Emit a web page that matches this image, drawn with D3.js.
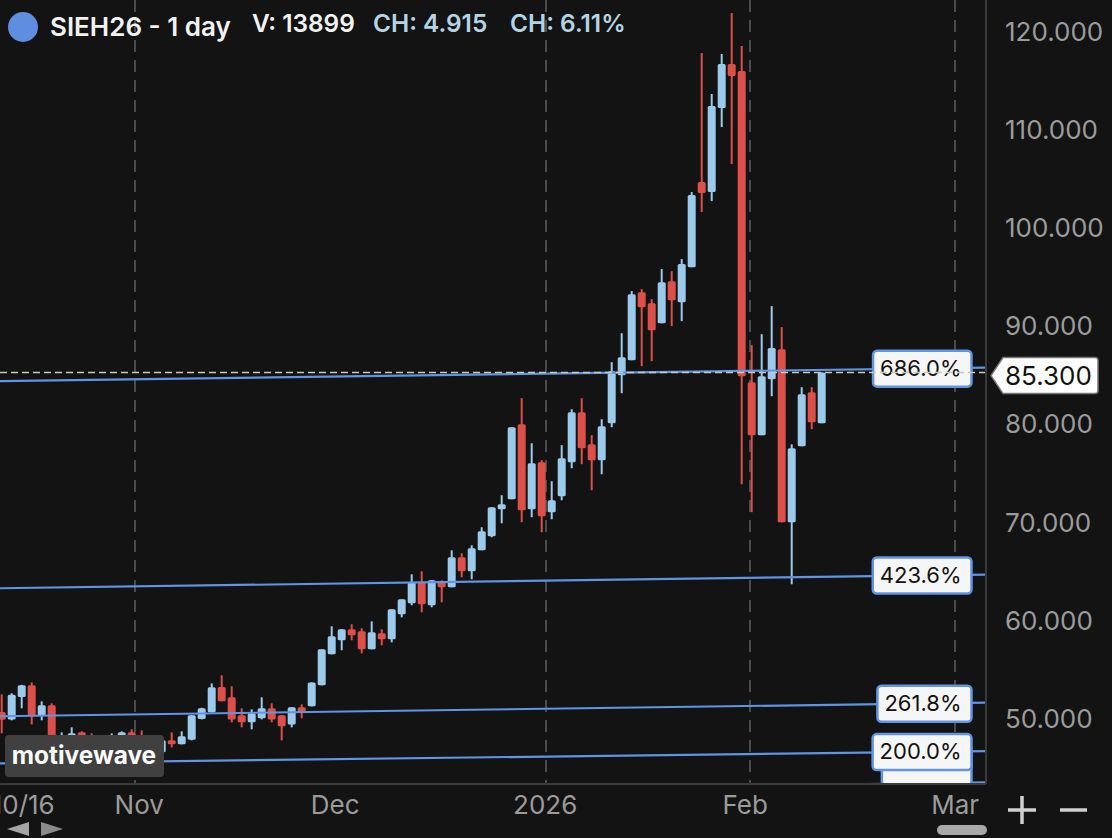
<!DOCTYPE html>
<html>
<head>
<meta charset="utf-8">
<script src="https://cdn.jsdelivr.net/npm/d3@7"></script>
<style>
  html, body { margin: 0; padding: 0; background: #131313; overflow: hidden; }
  text { font-family: Inter, "Noto Sans", sans-serif; }
</style>
</head>
<body>
<div id="chart"></div>
<script>
// daily bars (the ones behind the watermark are guesses)
const opens = [50.71,49.96,52.24,53.43,50.37,51.39,47.31,47.31,48.64,48.03,47.21,47.31,47.31,48.64,48.03,46.80,46.60,47.83,47.42,47.89,
  50.00,50.68,53.26,52.21,50.37,49.66,50.07,51.09,50.37,49.45,51.19,51.29,53.43,56.59,58.02,59.14,58.93,57.10,58.73,58.12,
  60.67,61.79,63.93,61.59,64.03,63.42,66.48,65.05,67.19,68.62,71.37,72.39,80.04,71.37,76.16,71.07,72.70,76.16,81.26,77.99,
  76.37,80.14,85.03,86.56,93.49,92.37,90.33,94.61,92.47,96.04,104.71,103.69,112.25,116.74,116.02,84.32,78.92,84.62,87.68,70.05,
  77.79,83.30,80.14];
const highs = [52.51,52.62,53.48,53.73,51.80,51.60,48.64,49.15,48.74,48.54,48.23,48.54,48.74,48.95,48.84,47.72,47.93,48.64,48.74,50.40,
  51.14,53.63,54.45,53.33,51.09,50.98,52.21,51.60,50.37,51.19,51.49,53.73,57.10,59.45,59.14,59.65,59.24,59.95,59.14,61.18,
  62.20,64.75,65.05,64.13,64.13,67.19,66.89,67.70,69.54,71.58,72.80,79.73,82.69,78.10,76.37,74.23,77.90,81.57,82.69,78.92,
  80.55,86.36,89.31,93.60,93.80,92.78,95.84,95.63,96.86,103.69,117.86,113.68,117.76,121.93,118.57,88.09,89.21,92.07,89.93,77.99,
  83.81,83.81,85.30];
const lows = [48.54,49.86,51.09,49.45,49.86,47.11,47.00,47.11,46.80,46.80,46.80,47.00,47.11,47.21,46.80,46.60,46.50,47.11,47.42,47.82,
  49.96,50.68,51.80,49.66,49.15,48.95,49.96,49.66,47.82,49.15,50.07,51.29,53.43,56.59,57.00,58.02,56.69,57.10,57.51,57.81,
  60.36,61.59,60.87,61.38,61.89,63.42,64.44,64.24,67.19,68.52,69.94,72.39,70.05,70.56,69.03,70.35,72.29,75.55,75.96,73.31,
  74.94,79.73,83.20,86.56,85.95,86.46,90.33,90.03,90.54,96.04,101.65,102.77,110.31,106.54,73.92,71.07,78.92,82.89,70.05,63.73,
  77.79,79.53,80.14];
const closes = [49.93,52.48,53.43,50.37,51.39,47.31,48.03,48.54,47.31,47.21,47.93,48.13,48.64,47.62,47.21,47.42,47.83,47.42,48.23,50.37,
  51.09,53.23,51.80,49.96,49.66,50.58,51.09,49.96,49.25,51.19,50.68,53.73,57.10,58.43,59.14,58.53,57.10,58.83,58.12,61.18,
  62.20,63.93,61.69,64.13,63.42,66.48,65.05,67.40,69.13,71.58,71.88,79.73,71.27,76.06,70.66,72.29,76.57,81.26,77.59,76.37,
  79.83,85.44,86.87,93.29,91.96,89.62,94.51,92.68,96.35,103.38,103.59,112.45,116.74,115.51,84.93,78.92,84.93,87.79,70.05,77.59,
  83.10,80.24,85.30];

const lastPrice = 85.3;

// fib levels: price at the left edge and at the right edge of the plot
const fibNames = ["161.8%", "200.0%", "261.8%", "423.6%", "686.0%"];
const fibLeft = [42.11, 45.48, 50.28, 63.32, 84.42];
const fibRight = [43.54, 46.73, 51.66, 64.72, 85.80];

const priceTicks = [50, 60, 70, 80, 90, 100, 110, 120];
const timeLabels = ["10/16", "Nov", "Dec", "2026", "Feb", "Mar"];
const timeLabelBars = [2.1, 13.7, 33.3, 54.3, 74.3, 95.3];
const gridBars = [13.33, 54.43, 74.83, 95.33];

const width = 1112, height = 838;
const plotRight = 986, plotBottom = 784;
const upColor = "#9ccaeb", downColor = "#dd4f49", fibColor = "#5f94e6";
const bodyWidth = 8;

const x = d3.scaleLinear().domain([0, 100]).range([1.7, 1001.7]);
const y = d3.scaleLinear().domain([50, 120]).range([719, 32]);

const svg = d3.select("#chart").append("svg")
  .attr("width", width)
  .attr("height", height)
  .style("display", "block");

svg.append("rect").attr("width", width).attr("height", height).attr("fill", "#131313");

svg.append("clipPath").attr("id", "plot-clip")
  .append("rect").attr("width", plotRight).attr("height", plotBottom);

const plot = svg.append("g").attr("clip-path", "url(#plot-clip)");

// vertical dashed grid
plot.selectAll(".grid")
  .data(gridBars)
  .join("line")
  .attr("class", "grid")
  .attr("x1", d => x(d))
  .attr("x2", d => x(d))
  .attr("y1", 0)
  .attr("y2", plotBottom)
  .attr("stroke", "#4b4b4b")
  .attr("stroke-width", 2)
  .attr("stroke-dasharray", "12 8");

// candles
const bars = opens.map((o, i) => ({ i, o, h: highs[i], l: lows[i], c: closes[i] }));
const candle = plot.selectAll(".candle")
  .data(bars)
  .join("g")
  .attr("class", "candle")
  .attr("fill", d => d.c >= d.o ? upColor : downColor)
  .attr("stroke", d => d.c >= d.o ? upColor : downColor);

candle.append("line")
  .attr("x1", d => x(d.i))
  .attr("x2", d => x(d.i))
  .attr("y1", d => y(d.h))
  .attr("y2", d => y(d.l))
  .attr("stroke-width", 2);

candle.append("rect")
  .attr("x", d => x(d.i) - bodyWidth / 2)
  .attr("y", d => y(Math.max(d.o, d.c)))
  .attr("width", bodyWidth)
  .attr("height", d => Math.abs(y(d.o) - y(d.c)))
  .attr("rx", 1.5)
  .attr("stroke", "none");

// fib lines
const fibs = fibNames.map((name, i) => ({ name, left: fibLeft[i], right: fibRight[i] }));
plot.selectAll(".fib")
  .data(fibs)
  .join("line")
  .attr("class", "fib")
  .attr("x1", 0)
  .attr("x2", plotRight)
  .attr("y1", d => y(d.left))
  .attr("y2", d => y(d.right))
  .attr("stroke", fibColor)
  .attr("stroke-width", 2.2);

// fib labels, right edge fixed, width from the text
// the lowest one was pushed up by the platform, it sits behind the 200% label
const labelRight = 971.5, labelHeight = 36, labelPadRight = 10, labelPadLeft = 7;
const labelY = d => y(d.right) - (d.name === "161.8%" ? 20 : 0);
const fibLabel = plot.selectAll(".fib-label")
  .data(fibs)
  .join("g")
  .attr("class", "fib-label");

const labelBox = fibLabel.append("rect");
fibLabel.append("text")
  .attr("x", labelRight - labelPadRight)
  .attr("y", d => labelY(d) + 8)
  .attr("text-anchor", "end")
  .attr("font-size", 22)
  .attr("fill", "#111")
  .text(d => d.name);

labelBox
  .attr("width", function () { return this.parentNode.querySelector("text").getComputedTextLength() + labelPadRight + labelPadLeft; })
  .attr("x", function () { return labelRight - this.getAttribute("width"); })
  .attr("y", d => labelY(d) - labelHeight / 2 + 1)
  .attr("height", d => d.name === "161.8%" ? labelHeight + 4 : labelHeight)
  .attr("rx", 4)
  .attr("fill", "#f6f6f6")
  .attr("stroke", fibColor)
  .attr("stroke-width", 2.5);

// last price line
plot.append("line")
  .attr("x1", 0)
  .attr("x2", plotRight)
  .attr("y1", y(lastPrice))
  .attr("y2", y(lastPrice))
  .attr("stroke", "#c9c9b4")
  .attr("stroke-width", 1.5)
  .attr("stroke-dasharray", "7 4");

// frame
svg.append("line").attr("x1", plotRight).attr("x2", plotRight).attr("y1", 0).attr("y2", plotBottom)
  .attr("stroke", "#3a3a3a").attr("stroke-width", 2);
svg.append("line").attr("x1", 0).attr("x2", plotRight).attr("y1", plotBottom).attr("y2", plotBottom)
  .attr("stroke", "#3a3a3a").attr("stroke-width", 2);

// axes
const yAxis = svg.append("g")
  .attr("transform", `translate(${plotRight},0)`)
  .call(d3.axisRight(y).tickValues(priceTicks).tickFormat(d3.format(".3f")).tickSize(0).tickPadding(19));
yAxis.select(".domain").remove();
yAxis.selectAll("text")
  .attr("font-size", 26)
  .style("font-family", "Inter")
  .attr("fill", "#9b9b9b");

const xAxis = svg.append("g")
  .attr("transform", `translate(0,${plotBottom})`)
  .call(d3.axisBottom(x)
    .tickValues(timeLabelBars)
    .tickFormat((d, i) => timeLabels[i])
    .tickSize(0)
    .tickPadding(12));
xAxis.select(".domain").remove();
xAxis.selectAll("text")
  .attr("font-size", 26)
  .style("font-family", "Inter")
  .attr("fill", "#9b9b9b");

// price tag
const tagY = y(lastPrice) + 3;
const tagPath = d3.path();
tagPath.moveTo(991, tagY);
tagPath.lineTo(1003, tagY - 18);
tagPath.lineTo(1095, tagY - 18);
tagPath.quadraticCurveTo(1098, tagY - 18, 1098, tagY - 15);
tagPath.lineTo(1098, tagY + 15);
tagPath.quadraticCurveTo(1098, tagY + 18, 1095, tagY + 18);
tagPath.lineTo(1003, tagY + 18);
tagPath.closePath();
svg.append("path")
  .attr("d", tagPath.toString())
  .attr("fill", "#fff")
  .attr("stroke", "#777")
  .attr("stroke-width", 1.5);
svg.append("text")
  .attr("x", 1005)
  .attr("y", tagY + 9.5)
  .attr("font-size", 26)
  .attr("fill", "#111")
  .text(d3.format(".3f")(lastPrice));

// watermark
svg.append("rect")
  .attr("x", 5).attr("y", 735).attr("width", 159).attr("height", 42).attr("rx", 4)
  .attr("fill", "#404040");
svg.append("text")
  .attr("x", 84)
  .attr("y", 764)
  .attr("text-anchor", "middle")
  .attr("font-size", 24.4)
  .attr("font-weight", 700)
  .attr("fill", "#fff")
  .text("motivewave");

// header
svg.append("circle").attr("cx", 23).attr("cy", 27).attr("r", 15).attr("fill", "#5f8de0");
const header = [
  { text: "SIEH26 - 1 day", x: 50, y: 36, size: 26, color: "#f2f2f2" },
  { text: "V: 13899", x: 252, y: 32, size: 24.4, color: "#f2f2f2" },
  { text: "CH: 4.915", x: 373, y: 32, size: 24.4, color: "#b4d4e4" },
  { text: "CH: 6.11%", x: 510, y: 32, size: 24.4, color: "#b4d4e4" }
];
svg.selectAll(".header")
  .data(header)
  .join("text")
  .attr("class", "header")
  .attr("x", d => d.x)
  .attr("y", d => d.y)
  .attr("font-size", d => d.size)
  .attr("font-weight", 600)
  .attr("fill", d => d.color)
  .text(d => d.text);

// zoom buttons and scroll handles
svg.append("path").attr("d", "M1008,810H1036M1022,796V824M1060,810H1087")
  .attr("stroke", "#d0d0d0").attr("stroke-width", 3.5).attr("fill", "none");
svg.append("rect").attr("x", 937).attr("y", 825).attr("width", 50).attr("height", 10).attr("rx", 5).attr("fill", "#a8a8a8");
svg.append("path").attr("d", "M7,829L29,822V836Z").attr("fill", "#a5a5a5");
svg.append("path").attr("d", "M41,822L63,829L41,836Z").attr("fill", "#8a8a8a");
</script>
</body>
</html>
